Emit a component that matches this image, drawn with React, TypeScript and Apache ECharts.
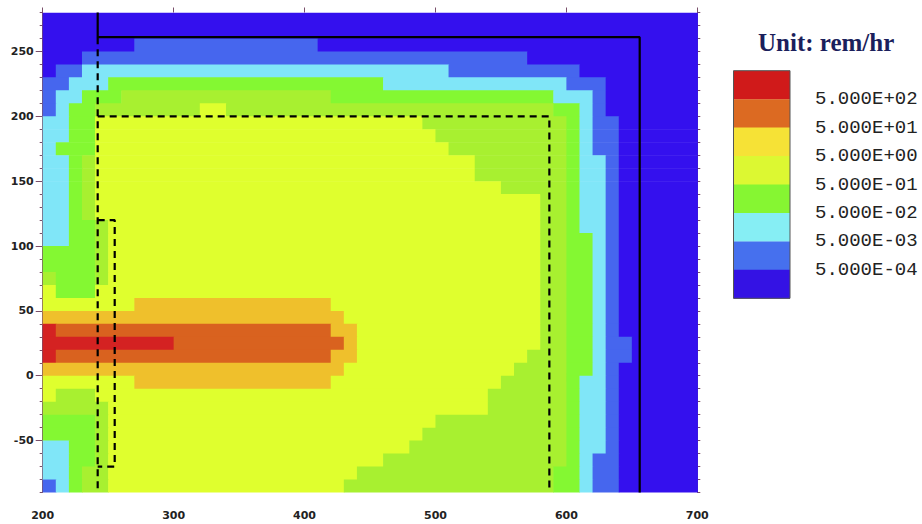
import { useEffect, useRef } from "react";
import * as echarts from "echarts";

// Axis ranges (cm) and cell size of the dose mesh
const X_MIN = 200;
const X_MAX = 700;
const Y_MIN = -90;
const Y_MAX = 280;
const CELL = 10;

// Dose-rate bands, one entry per mesh row from y=280 (top) downward.
// Each row is a list of runs: [level, number of 10-cm cells], left to right from x=200.
// level: 0 <5E-04, 1 5E-04..5E-03, 2 ..5E-02, 3 ..5E-01 (green), 4 yellow-green, 5 ..5E+00, 6 ..5E+01, 7 ..5E+02, 8 >5E+02
const doseRows: number[][][] = [
  [[0, 50]],
  [[0, 50]],
  [[0, 7], [1, 14], [0, 29]],
  [[0, 3], [1, 34], [0, 13]],
  [[0, 1], [1, 2], [2, 28], [1, 10], [0, 9]],
  [[1, 2], [2, 3], [3, 21], [2, 14], [1, 3], [0, 7]],
  [[1, 1], [2, 2], [3, 3], [4, 16], [3, 17], [2, 3], [1, 1], [0, 7]],
  [[1, 1], [2, 1], [3, 2], [4, 8], [5, 2], [4, 25], [3, 2], [2, 1], [1, 1], [0, 7]],
  [[2, 2], [3, 2], [5, 25], [4, 11], [3, 1], [2, 1], [1, 2], [0, 6]],
  [[2, 2], [3, 2], [5, 26], [4, 10], [3, 1], [2, 1], [1, 2], [0, 6]],
  [[2, 1], [3, 3], [5, 27], [4, 9], [3, 1], [2, 1], [1, 2], [0, 6]],
  [[2, 2], [3, 1], [4, 1], [5, 29], [4, 7], [3, 1], [2, 2], [1, 1], [0, 6]],
  [[2, 2], [3, 1], [4, 1], [5, 29], [4, 7], [3, 1], [2, 2], [1, 1], [0, 6]],
  [[2, 2], [3, 1], [4, 1], [5, 31], [4, 5], [3, 1], [2, 2], [1, 1], [0, 6]],
  [[2, 2], [3, 1], [4, 1], [5, 34], [4, 2], [3, 1], [2, 2], [1, 1], [0, 6]],
  [[2, 2], [3, 1], [4, 1], [5, 34], [4, 2], [3, 1], [2, 2], [1, 1], [0, 6]],
  [[2, 2], [3, 2], [4, 1], [5, 33], [4, 2], [3, 1], [2, 2], [1, 1], [0, 6]],
  [[2, 2], [3, 2], [4, 1], [5, 33], [4, 2], [3, 2], [2, 1], [1, 1], [0, 6]],
  [[3, 4], [4, 1], [5, 33], [4, 2], [3, 2], [2, 1], [1, 1], [0, 6]],
  [[3, 4], [4, 1], [5, 33], [4, 2], [3, 2], [2, 1], [1, 1], [0, 6]],
  [[4, 1], [3, 3], [4, 1], [5, 33], [4, 2], [3, 2], [2, 1], [1, 1], [0, 6]],
  [[5, 1], [3, 3], [5, 34], [4, 2], [3, 2], [2, 1], [1, 1], [0, 6]],
  [[5, 7], [6, 15], [5, 16], [4, 2], [3, 2], [2, 1], [1, 1], [0, 6]],
  [[6, 23], [5, 15], [4, 2], [3, 2], [2, 1], [1, 1], [0, 6]],
  [[8, 1], [7, 21], [6, 2], [5, 14], [4, 2], [3, 2], [2, 1], [1, 1], [0, 6]],
  [[8, 10], [7, 13], [6, 1], [5, 14], [4, 2], [3, 2], [2, 1], [1, 2], [0, 5]],
  [[8, 1], [7, 21], [6, 2], [5, 13], [4, 3], [3, 2], [2, 1], [1, 2], [0, 5]],
  [[6, 23], [5, 13], [4, 4], [3, 2], [2, 1], [1, 1], [0, 6]],
  [[5, 7], [6, 15], [5, 13], [4, 5], [3, 1], [2, 2], [1, 1], [0, 6]],
  [[5, 1], [4, 3], [5, 30], [4, 6], [3, 1], [2, 2], [1, 1], [0, 6]],
  [[4, 5], [5, 29], [4, 6], [3, 1], [2, 2], [1, 1], [0, 6]],
  [[3, 4], [4, 1], [5, 25], [4, 10], [3, 1], [2, 2], [1, 1], [0, 6]],
  [[3, 4], [4, 1], [5, 24], [4, 11], [3, 1], [2, 2], [1, 1], [0, 6]],
  [[2, 2], [3, 2], [4, 1], [5, 23], [4, 12], [3, 1], [2, 2], [1, 1], [0, 6]],
  [[2, 2], [3, 2], [4, 1], [5, 21], [4, 14], [3, 1], [2, 1], [1, 2], [0, 6]],
  [[2, 2], [3, 1], [4, 2], [5, 19], [4, 15], [3, 2], [2, 1], [1, 2], [0, 6]],
  [[1, 1], [2, 1], [3, 1], [4, 2], [5, 18], [4, 16], [3, 2], [2, 1], [1, 2], [0, 6]],
];

const levelColors = [
  "#3410ee",
  "#4666ee",
  "#80e6f8",
  "#84f832",
  "#a8f030",
  "#dfff2e",
  "#efc02c",
  "#d9621f",
  "#d42222",
];

// Legend (top to bottom) and its boundary labels
const legendColors = [
  "#d01a1a",
  "#dc6a22",
  "#f6e236",
  "#dcf832",
  "#86f632",
  "#86eef4",
  "#4670ee",
  "#3412e4",
];
const legendLabels = [
  "5.000E+02",
  "5.000E+01",
  "5.000E+00",
  "5.000E-01",
  "5.000E-02",
  "5.000E-03",
  "5.000E-04",
];
const legendTitle = "Unit: rem/hr";

// Tick labels
const xLabelValues = [200, 300, 400, 500, 600, 700];
const yLabelValues = [-50, 0, 50, 100, 150, 200, 250];

// Geometry outlines (cm)
const outerWall = [
  [242, 280],
  [242, 261],
  [656, 261],
  [656, -90],
];
const dashedLeft = [
  [242, 261],
  [242, -90],
];
const dashedRoom = [
  [242, 200],
  [587, 200],
  [587, -90],
];
const dashedSmall = [
  [242, 120],
  [255, 120],
  [255, -70],
  [242, -70],
];

export default function App() {
  const ref = useRef<HTMLDivElement>(null);

  useEffect(() => {
    if (!ref.current) return;
    const chart = echarts.init(ref.current, undefined, { renderer: "svg" });

    // one rectangle per run of equal level
    const cells: number[][] = [];
    doseRows.forEach((runs, r) => {
      let c = 0;
      runs.forEach(([lv, n]) => {
        cells.push([X_MIN + c * CELL, Y_MAX - r * CELL, X_MIN + (c + n) * CELL, lv]);
        c += n;
      });
    });

    const axisColor = "#7a4f6a";
    const tickStyle = { color: axisColor, width: 1 };

    const option: any = {
      animation: false,
      backgroundColor: "#ffffff",
      grid: { left: 42.7, right: 224.7, top: 12.5, bottom: 31.5, containLabel: false },
      xAxis: [
        {
          type: "value",
          position: "bottom",
          min: X_MIN,
          max: X_MAX,
          interval: 10,
          axisLine: { show: true, lineStyle: tickStyle },
          axisTick: { show: true, length: 3, lineStyle: tickStyle },
          axisLabel: {
            formatter: (v: number) => (xLabelValues.includes(v) ? String(v) : ""),
            margin: 17,
            fontFamily: "DejaVu Sans",
            fontWeight: "bold",
            fontSize: 11,
            color: "#222",
          },
          splitLine: { show: false },
        },
        {
          type: "value",
          position: "top",
          min: X_MIN,
          max: X_MAX,
          interval: 10,
          axisLine: { show: true, lineStyle: tickStyle },
          axisTick: { show: true, length: 3, lineStyle: tickStyle },
          axisLabel: { show: false },
          splitLine: { show: false },
        },
        {
          type: "value",
          position: "bottom",
          min: X_MIN,
          max: X_MAX,
          interval: 100,
          axisLine: { show: false },
          axisTick: { show: true, length: 6, lineStyle: tickStyle },
          axisLabel: { show: false },
          splitLine: { show: false },
        },
        {
          type: "value",
          position: "top",
          min: X_MIN,
          max: X_MAX,
          interval: 100,
          axisLine: { show: false },
          axisTick: { show: true, length: 5, lineStyle: tickStyle },
          axisLabel: { show: false },
          splitLine: { show: false },
        },
      ],
      yAxis: [
        {
          type: "value",
          position: "left",
          min: Y_MIN,
          max: Y_MAX,
          interval: 10,
          axisLine: { show: true, lineStyle: tickStyle },
          axisTick: { show: true, length: 3, lineStyle: tickStyle },
          axisLabel: {
            formatter: (v: number) => (yLabelValues.includes(v) ? String(v) : ""),
            margin: 9,
            fontFamily: "DejaVu Sans",
            fontWeight: "bold",
            fontSize: 11,
            color: "#222",
          },
          splitLine: { show: false },
        },
        {
          type: "value",
          position: "right",
          min: Y_MIN,
          max: Y_MAX,
          interval: 10,
          axisLine: { show: true, lineStyle: tickStyle },
          axisTick: { show: true, length: 3, lineStyle: tickStyle },
          axisLabel: { show: false },
          splitLine: { show: false },
        },
        {
          type: "value",
          position: "left",
          min: Y_MIN,
          max: Y_MAX,
          axisLine: { show: false },
          axisTick: { show: true, length: 7, lineStyle: tickStyle, customValues: yLabelValues },
          axisLabel: { show: false },
          splitLine: { show: false },
        },
      ],
      series: [
        {
          type: "custom",
          xAxisIndex: 0,
          yAxisIndex: 0,
          clip: true,
          data: cells,
          renderItem: (_params: any, api: any) => {
            const x0 = api.value(0);
            const yTop = api.value(1);
            const x1 = api.value(2);
            const lv = api.value(3);
            const p0 = api.coord([x0, yTop]);
            const p1 = api.coord([x1, yTop - CELL]);
            return {
              type: "rect",
              shape: {
                x: p0[0],
                y: p0[1],
                width: p1[0] - p0[0] + 0.6,
                height: p1[1] - p0[1] + 0.6,
              },
              style: { fill: levelColors[lv], stroke: null },
            };
          },
          z: 1,
        },
        {
          type: "line",
          data: outerWall,
          showSymbol: false,
          symbol: "none",
          lineStyle: { color: "#000", width: 2.2, type: "solid" },
          z: 5,
          clip: false,
        },
        {
          type: "line",
          data: dashedLeft,
          showSymbol: false,
          symbol: "none",
          lineStyle: { color: "#000", width: 2.2, type: [7, 5] },
          z: 5,
          clip: false,
        },
        {
          type: "line",
          data: dashedRoom,
          showSymbol: false,
          symbol: "none",
          lineStyle: { color: "#000", width: 2.2, type: [7, 5] },
          z: 5,
          clip: false,
        },
        {
          type: "line",
          data: dashedSmall,
          showSymbol: false,
          symbol: "none",
          lineStyle: { color: "#000", width: 2.2, type: [7, 5] },
          z: 5,
          clip: false,
        },
      ],
      graphic: [
        {
          type: "text",
          left: 758,
          top: 30,
          style: {
            text: legendTitle,
            font: "bold 25px 'Liberation Serif', 'Times New Roman', serif",
            fill: "#1b1f5c",
          },
        },
        ...legendColors.map((c, i) => ({
          type: "rect",
          shape: { x: 733.5, y: 70.7 + i * 28.45, width: 56.5, height: 28.45 + 0.4 },
          style: { fill: c },
        })),
        {
          type: "rect",
          shape: { x: 733.5, y: 70.7, width: 56.5, height: 28.45 * 8 },
          style: { fill: "none", stroke: "#555", lineWidth: 1 },
        },
        ...legendLabels.map((t, i) => ({
          type: "text",
          x: 815,
          y: 70.7 + (i + 1) * 28.45,
          style: {
            text: t,
            font: "19px 'Courier New', 'Liberation Mono', monospace",
            fill: "#222",
            verticalAlign: "middle",
            align: "left",
          },
        })),
      ],
    };

    chart.setOption(option);
    return () => chart.dispose();
  }, []);

  return (
    <div
      ref={ref}
      style={{ position: "fixed", left: 0, top: 0, width: 922, height: 524 }}
    />
  );
}
